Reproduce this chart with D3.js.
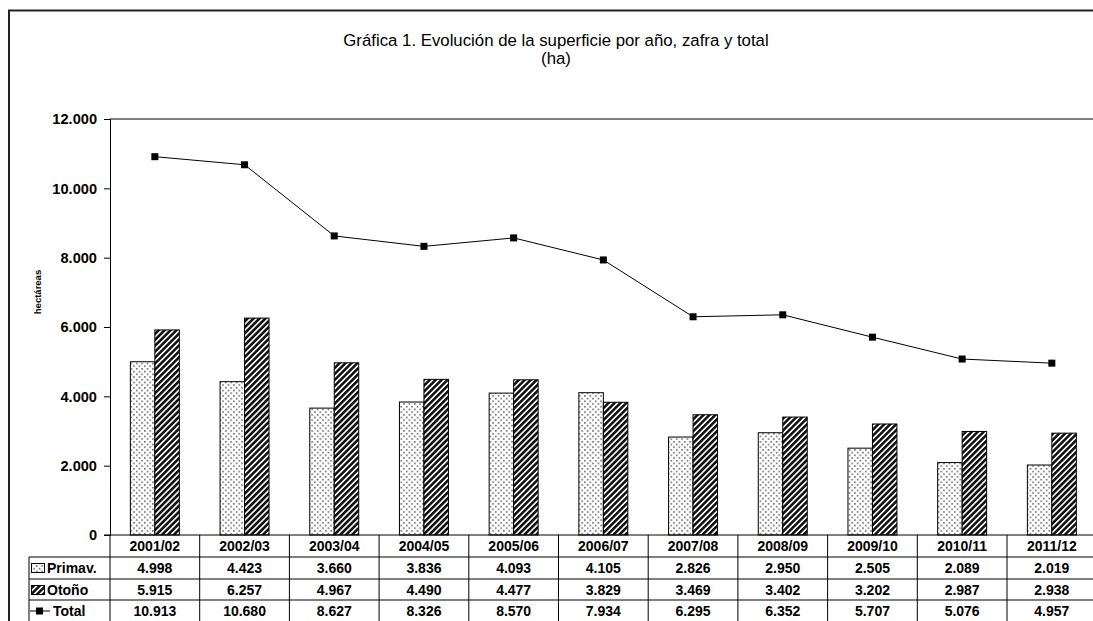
<!DOCTYPE html>
<html><head><meta charset="utf-8">
<script src="https://cdn.jsdelivr.net/npm/d3@7"></script>
<style>
html,body{margin:0;padding:0;background:#fff;}
svg{display:block;font-family:"Liberation Sans",Arial,sans-serif;}
</style></head>
<body>
<svg id="c" width="1093" height="621"></svg>
<script>
const categories = ["2001/02","2002/03","2003/04","2004/05","2005/06","2006/07","2007/08","2008/09","2009/10","2010/11","2011/12"];
const primav = [4998,4423,3660,3836,4093,4105,2826,2950,2505,2089,2019];
const otono  = [5915,6257,4967,4490,4477,3829,3469,3402,3202,2987,2938];
const total  = [10913,10680,8627,8326,8570,7934,6295,6352,5707,5076,4957];
const yTicks = [0,2000,4000,6000,8000,10000,12000];
const seriesNames = ["Primav.","Otoño","Total"];

const svg = d3.select("#c");
const fmt = v => d3.format(",")(v).replace(/,/g,".");
const FS = 14;

const pLeft = 110, pTop = 119, pBottom = 535, step = 89.7;
const x = d3.scaleBand().domain(categories).range([pLeft, pLeft + step*categories.length])
  .paddingInner(0.454).paddingOuter(0.227);
const x1 = d3.scaleBand().domain(["p","o"]).range([0, x.bandwidth()]);
const y = d3.scaleLinear().domain([0,12000]).range([pBottom, pTop]);

// patterns
const defs = svg.append("defs");
const pd = defs.append("pattern").attr("id","dots").attr("patternUnits","userSpaceOnUse")
  .attr("width",5.4).attr("height",5.4);
pd.append("rect").attr("width",5.4).attr("height",5.4).attr("fill","#fff");
pd.append("rect").attr("x",1).attr("y",1).attr("width",1.4).attr("height",1.4).attr("fill","#444");
pd.append("rect").attr("x",3.7).attr("y",3.7).attr("width",1.4).attr("height",1.4).attr("fill","#444");
const ps = defs.append("pattern").attr("id","stripes").attr("patternUnits","userSpaceOnUse")
  .attr("width",4.2).attr("height",4.2).attr("patternTransform","rotate(45)");
ps.append("rect").attr("width",4.2).attr("height",4.2).attr("fill","#fff");
ps.append("rect").attr("width",2.6).attr("height",4.2).attr("fill","#111");

// outer border
svg.append("rect").attr("x",9).attr("y",10.5).attr("width",1100).attr("height",640)
  .attr("fill","none").attr("stroke","#222").attr("stroke-width",2);

// title
svg.append("text").attr("x",556).attr("y",46).attr("text-anchor","middle")
  .attr("font-size",16.8).text("Gráfica 1. Evolución de la superficie por año, zafra y total");
svg.append("text").attr("x",556).attr("y",64).attr("text-anchor","middle")
  .attr("font-size",16.8).text("(ha)");

// plot top border
svg.append("line").attr("x1",pLeft).attr("x2",1100).attr("y1",pTop).attr("y2",pTop)
  .attr("stroke","#000").attr("stroke-width",1);

// y axis
const yAxis = d3.axisLeft(y).tickValues(yTicks).tickFormat(fmt).tickSize(6).tickPadding(7);
const ga = svg.append("g").attr("transform",`translate(${pLeft},0)`).call(yAxis);
ga.select(".domain").attr("stroke","#000");
ga.selectAll("text").attr("font-size",14.6).attr("font-weight","bold").attr("fill","#000")
  .attr("font-family","Liberation Sans, Arial, sans-serif");
ga.selectAll("line").attr("stroke","#000");

// y label
svg.append("text").attr("transform","translate(41,292) rotate(-90)").attr("text-anchor","middle")
  .attr("font-size",9.5).attr("font-weight","bold").text("hectáreas");

// bars
const g = svg.append("g");
categories.forEach((c,i) => {
  g.append("rect").attr("x", x(c)+x1("p")).attr("y", y(primav[i]))
    .attr("width", x1.bandwidth()).attr("height", y(0)-y(primav[i]))
    .attr("fill","url(#dots)").attr("stroke","#000").attr("stroke-width",1);
  g.append("rect").attr("x", x(c)+x1("o")).attr("y", y(otono[i]))
    .attr("width", x1.bandwidth()).attr("height", y(0)-y(otono[i]))
    .attr("fill","url(#stripes)").attr("stroke","#000").attr("stroke-width",1);
});

// line
const cx = c => x(c) + x.bandwidth()/2;
const line = d3.line().x((d,i)=>cx(categories[i])).y(d=>y(d));
svg.append("path").datum(total).attr("d",line).attr("fill","none").attr("stroke","#000").attr("stroke-width",1);
svg.selectAll(".mk").data(total).enter().append("rect")
  .attr("x",(d,i)=>cx(categories[i])-3.5).attr("y",d=>y(d)-3.5)
  .attr("width",7).attr("height",7).attr("fill","#000");

// x axis line (bottom)
svg.append("line").attr("x1",pLeft-6).attr("x2",1100).attr("y1",pBottom).attr("y2",pBottom).attr("stroke","#000");

// data table
const rowY = [535,557,579,600,622];
const tableLeft = 29;
const tg = svg.append("g");
[1,2,3].forEach(r => tg.append("line").attr("x1",tableLeft).attr("x2",1100)
  .attr("y1",rowY[r]).attr("y2",rowY[r]).attr("stroke","#000"));
tg.append("line").attr("x1",tableLeft).attr("x2",tableLeft).attr("y1",rowY[1]).attr("y2",rowY[4]).attr("stroke","#000");
tg.append("line").attr("x1",pLeft).attr("x2",pLeft).attr("y1",rowY[0]).attr("y2",rowY[4]).attr("stroke","#000");
categories.forEach((c,i) => {
  const xr = x.range()[0] + x.step()*(i+1);
  tg.append("line").attr("x1",xr).attr("x2",xr).attr("y1",rowY[0]).attr("y2",rowY[4]).attr("stroke","#000");
});
const rows = [primav, otono, total];
categories.forEach((c,i) => {
  const xc = cx(c);
  tg.append("text").attr("x",xc).attr("y",(rowY[0]+rowY[1])/2+5).attr("text-anchor","middle")
    .attr("font-size",FS).attr("font-weight","bold").text(c);
  rows.forEach((arr,r) => {
    tg.append("text").attr("x",xc).attr("y",(rowY[r+1]+rowY[r+2])/2+5).attr("text-anchor","middle")
      .attr("font-size",FS).attr("font-weight","bold").text(fmt(arr[i]));
  });
});
const labelX = [47,47,53];
seriesNames.forEach((n,r) => {
  const yc = (rowY[r+1]+rowY[r+2])/2;
  tg.append("text").attr("x",labelX[r]).attr("y",yc+5).attr("font-size",FS).attr("font-weight","bold").text(n);
});
tg.append("rect").attr("x",31.5).attr("y",rowY[1]+6.5).attr("width",13).attr("height",9)
  .attr("fill","url(#dots)").attr("stroke","#000");
tg.append("rect").attr("x",31.5).attr("y",rowY[2]+6.5).attr("width",13).attr("height",9)
  .attr("fill","url(#stripes)").attr("stroke","#000");
const ty = (rowY[3]+rowY[4])/2;
tg.append("line").attr("x1",30).attr("x2",50).attr("y1",ty).attr("y2",ty).attr("stroke","#000");
tg.append("rect").attr("x",36).attr("y",ty-3.5).attr("width",7).attr("height",7).attr("fill","#000");
</script>
</body></html>
